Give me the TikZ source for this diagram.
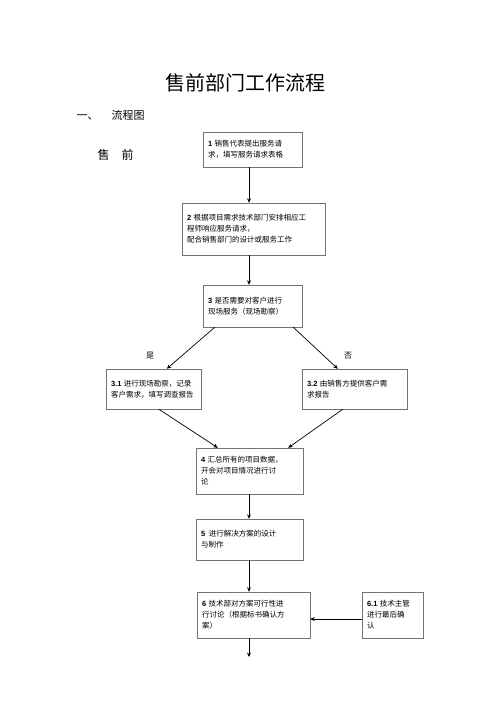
\documentclass[tikz,border=0pt]{standalone}
\usepackage{fontspec}
\setmainfont{Noto Sans CJK SC}
\newfontfamily\numfont{Liberation Sans}
\usetikzlibrary{arrows.meta,shadows,calc}
\newcommand{\nb}[1]{{\numfont\bfseries #1}}
\tikzset{
  flowbox/.style={draw=black!55, line width=0.4pt, fill=white,
    drop shadow={shadow xshift=0.8pt, shadow yshift=-0.8pt, fill=black, opacity=1},
    inner xsep=5pt, inner ysep=2pt, align=left,
    font=\fontsize{7.5}{11}\selectfont},
  conn/.style={line width=0.7pt, -{Stealth[length=4.5pt,width=4pt]}},
  lbl/.style={font=\fontsize{8}{10}\selectfont}
}
\begin{document}
\begin{tikzpicture}[x=1pt,y=-1pt]
\useasboundingbox (0,0) rectangle (500,708);
\node[font=\fontsize{20}{24}\selectfont] (title) at (245,83) {售前部门工作流程};
\node[font=\fontsize{11}{13}\selectfont, anchor=west] (sec) at (73,115) {一、\hspace{1.2em}流程图};
\node[font=\fontsize{12}{14}\selectfont, anchor=west] (pre) at (94,155) {售\hspace{1em}前};

\node[flowbox, minimum width=99, minimum height=35, text width=89] (b1) at (252.5,149.5)
  {\nb{1} 销售代表提出服务请\\求，填写服务请求表格};
\node[flowbox, minimum width=143, minimum height=52, text width=133] (b2) at (253.5,229)
  {\nb{2} 根据项目需求技术部门安排相应工\\程师响应服务请求，\\配合销售部门的设计或服务工作};
\node[flowbox, minimum width=99, minimum height=42, text width=89] (b3) at (252.5,306)
  {\nb{3} 是否需要对客户进行\\现场服务（现场勘察）};
\node[flowbox, minimum width=93, minimum height=40, text width=85] (b31) at (153.5,389)
  {\nb{3.1} 进行现场勘察，记录\\客户需求，填写调查报告};
\node[flowbox, minimum width=105, minimum height=40, text width=95] (b32) at (354.5,389)
  {\nb{3.2} 由销售方提供客户需\\求报告};
\node[flowbox, minimum width=107, minimum height=46, text width=97] (b4) at (249.5,471)
  {\nb{4} 汇总所有的项目数据，\\开会对项目情况进行讨\\论};
\node[flowbox, minimum width=107, minimum height=41, text width=97] (b5) at (249.5,539.5)
  {\nb{5}\, 进行解决方案的设计\\与制作};
\node[flowbox, minimum width=113, minimum height=46, text width=103] (b6) at (253.5,615)
  {\nb{6} 技术部对方案可行性进\\行讨论（根据标书确认方\\案）};
\node[flowbox, minimum width=61, minimum height=46, text width=51] (b61) at (392.5,615)
  {\nb{6.1} 技术主管\\进行最后确\\认};

\node[lbl] (yes) at (150,356) {是};
\node[lbl] (no) at (348,356) {否};

\coordinate (axis) at (249,0);
\coordinate (endpt) at (249,657);

\draw[conn] (b1.south -| axis) -- (b2.north -| axis);
\draw[conn] (b2.south -| axis) -- (b3.north -| axis);
\draw[conn] ($(b3.south west)+(12,0)$) -- ($(b31.north west)+(61,0)$);
\draw[conn] ($(b3.south east)+(-9,0)$) -- ($(b32.north west)+(36,0)$);
\draw[conn] ($(b31.south west)+(53,0)$) -- ($(b4.north west)+(22,0)$);
\draw[conn] ($(b32.south west)+(41,0)$) -- ($(b4.north east)+(-15,0)$);
\draw[conn] (b4.south -| axis) -- (b5.north -| axis);
\draw[conn] (b5.south -| axis) -- (b6.north -| axis);
\draw[conn] ($(b61.west)+(0,4)$) -- ($(b6.east)+(0,4)$);
\draw[conn] (b6.south -| axis) -- (endpt);
\end{tikzpicture}
\end{document}
